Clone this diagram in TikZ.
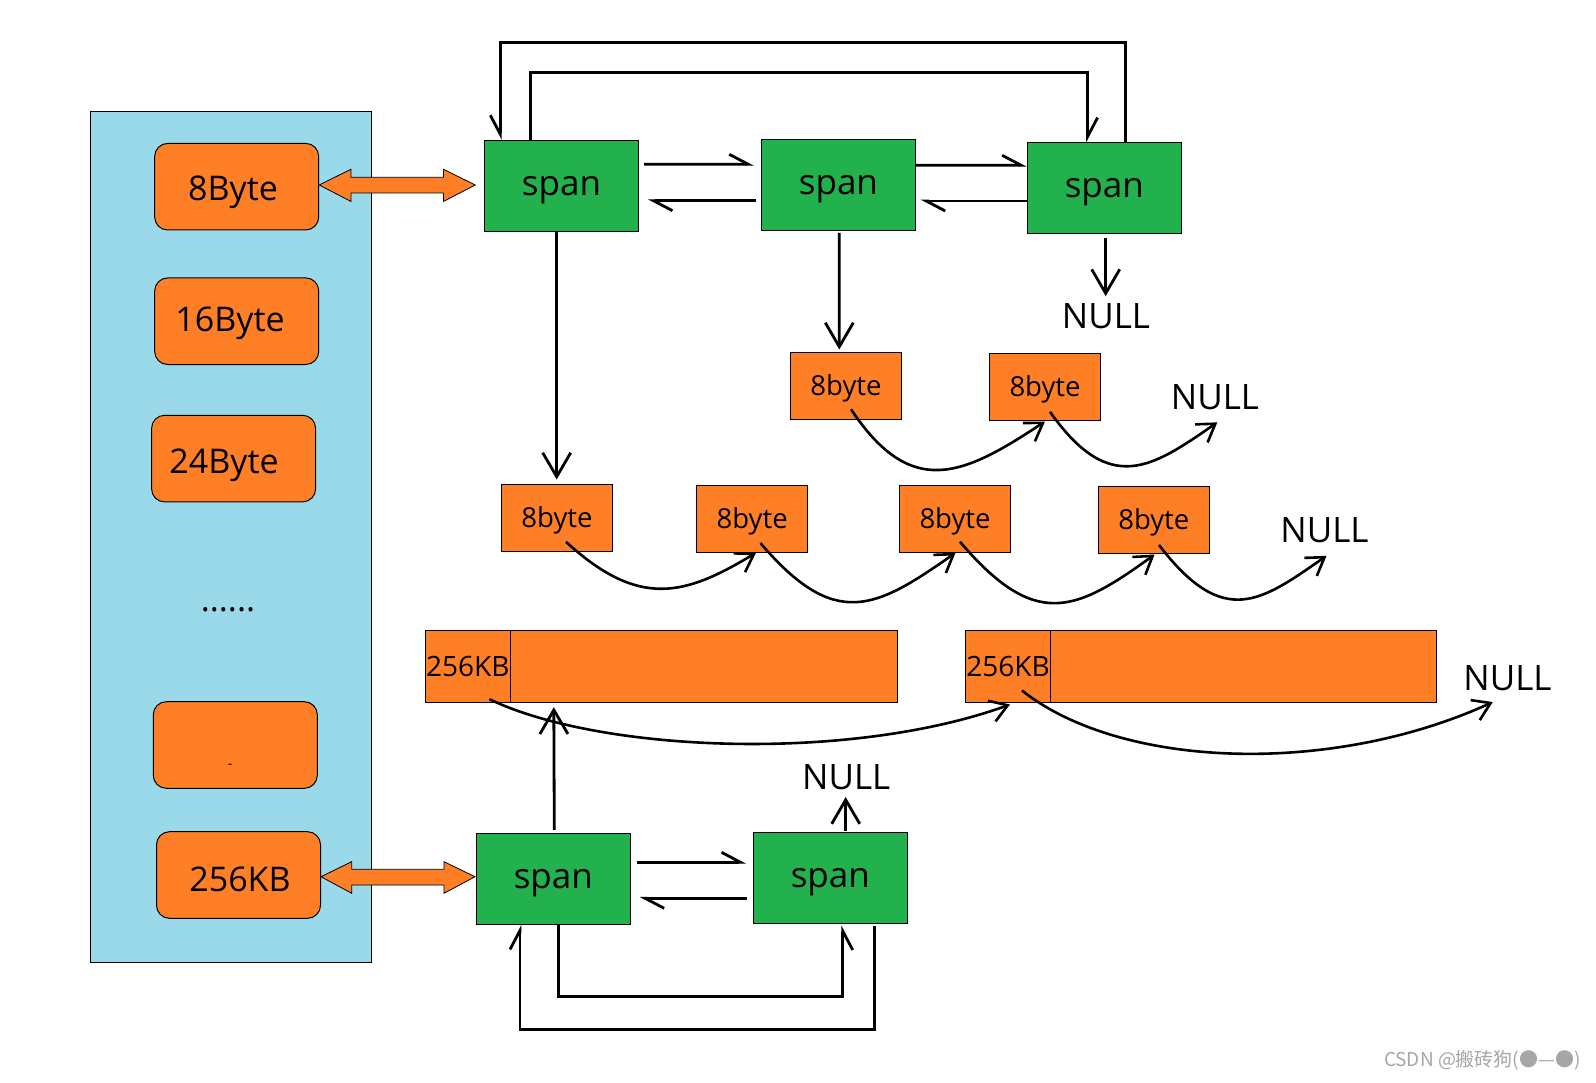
\documentclass[tikz,border=0pt]{standalone}
\usepackage{fontspec}
\setmainfont{Open Sans}
\newfontfamily\cjk{Noto Sans CJK SC}
\usetikzlibrary{arrows.meta,calc}
\definecolor{ora}{HTML}{FF7F27}
\definecolor{grn}{HTML}{22B14C}
\definecolor{pnl}{HTML}{99D9EA}
\begin{document}
\begin{tikzpicture}[x=1pt,y=-1pt,
 panelbox/.style={draw=black,line width=1pt,fill=pnl,inner sep=0},
 sizebox/.style={draw=black,line width=1pt,fill=ora,rounded corners=13pt,inner sep=0,minimum width=164pt,minimum height=86.6pt},
 spanbox/.style={draw=black,line width=1pt,fill=grn,inner sep=0,minimum width=154pt,minimum height=91pt,font=\fontsize{35}{40}\selectfont,text height=20pt,text depth=0.6pt},
 bytebox/.style={draw=black,line width=1pt,fill=ora,inner sep=0,minimum width=111pt,minimum height=67pt,font=\fontsize{27.5}{32}\selectfont,text height=20pt,text depth=0pt},
 barcell/.style={draw=black,line width=1pt,fill=ora,inner sep=0,minimum height=71.6pt,font=\fontsize{28}{32}\selectfont,text height=20pt,text depth=0pt},
 nulltxt/.style={inner sep=0,font=\fontsize{35}{40}\selectfont},
 sizetxt/.style={inner sep=0,anchor=base,font=\fontsize{34}{40}\selectfont},
 link/.style={line width=2.8pt},
 harp/.style={link,-{Straight Barb[harpoon,length=19pt,width=20pt]}},
 harpsw/.style={link,-{Straight Barb[harpoon,swap,length=19pt,width=20pt]}},
 varr/.style={link,-{Straight Barb[length=24pt,width=28pt]}},
 carr/.style={line width=2.6pt,-{Straight Barb[length=17pt,width=22pt]}},
 dbl/.style={draw=black,line width=0.8pt,fill=ora,line join=miter},
]
\useasboundingbox (0,0) rectangle (1596,1083);
\fill[white] (0,0) rectangle (1596,1083);

% left panel
\node[panelbox,minimum width=280.8pt,minimum height=850pt] (panel) at (231,537) {};
\node[sizebox] (k8) at (236.7,186.7) {};
\node[sizebox] (k16) at (236.7,321.2) {};
\node[sizebox] (k24) at (233.6,458.6) {};
\node[sizebox] (kb) at (235.3,745) {};
\node[sizebox] (k256) at (238.5,875) {};
\node[sizetxt] (t8) at (233,201) {8Byte};
\node[sizetxt] (t16) at (230,332) {16Byte};
\node[sizetxt] (t24) at (224,473) {24Byte};
\node[sizetxt] (tdots) at (228,611) {......};
\node[inner sep=0,font=\fontsize{14}{16}\selectfont] (tmk) at (230,766) {-};
\node[sizetxt] (t256) at (240,891.7) {256KB};

% spans
\node[spanbox] (s1) at (561.5,185.9) {span};
\node[spanbox] (s2) at (838.4,184.8) {span};
\node[spanbox,minimum height=90.3pt] (s3) at (1104.3,187.9) {span};
\node[spanbox] (sa) at (553.3,878.8) {span};
\node[spanbox] (sb) at (830.3,877.8) {span};

% 8byte boxes
\node[bytebox] (r1a) at (846,385.8) {8byte};
\node[bytebox] (r1b) at (1045,386.8) {8byte};
\node[bytebox] (r2a) at (557,517.8) {8byte};
\node[bytebox] (r2b) at (752.2,518.8) {8byte};
\node[bytebox] (r2c) at (955,518.8) {8byte};
\node[bytebox] (r2d) at (1153.8,519.8) {8byte};

% 256KB bars
\node[barcell,minimum width=84.3pt] (c1) at (467.85,666.5) {256KB};
\node[barcell,minimum width=387.3pt] (bar1) at (703.65,666.5) {};
\node[barcell,minimum width=85pt] (c2) at (1008,666.5) {256KB};
\node[barcell,minimum width=385.8pt] (bar2) at (1243.4,666.5) {};

% NULL labels
\node[nulltxt] (n1) at (1106,316) {NULL};
\node[nulltxt] (n2) at (1215,397.5) {NULL};
\node[nulltxt] (n3) at (1324.5,530) {NULL};
\node[nulltxt] (n4) at (1507.5,678) {NULL};
\node[nulltxt] (n5) at (846.3,777) {NULL};

% double block arrows
\draw[dbl] ($(k8.east)+(0,-1.7)$) -- ++(31.7,-15.7) -- ++(0,8) -- ++(92.6,0) -- ++(0,-8) -- ++(31.7,15.7) -- ++(-31.7,16.4) -- ++(0,-8.4) -- ++(-92.6,0) -- ++(0,8.4) -- cycle;
\draw[dbl] ($(k256.east)+(0,1.7)$) -- ++(30.7,-15) -- ++(0,7.6) -- ++(92.3,0) -- ++(0,-7.6) -- ++(31,15) -- ++(-31,16.6) -- ++(0,-8.3) -- ++(-92.3,0) -- ++(0,8.3) -- cycle;

% top loops
\draw[harpsw] ($(s3.north)+(21.2,0)$) -- ++(0,-99.4) -| ($(s1.north)+(-61.2,0)$);
\draw[harp] ($(s1.north)+(-31.3,0)$) -- ++(0,-67.1) -| ($(s3.north)+(-16.7,0)$);

% span links top
\draw[harp] ($(s1.east)+(5,-21.6)$) -- ($(s2.west)+(-7,-20.5)$);
\draw[harp] ($(s2.west)+(-5,15.9)$) -- ($(s1.east)+(8.8,14.8)$);
\draw[harp] ($(s2.east)+(0,-19.5)$) -- ($(s3.west)+(0,-22.6)$);
\draw[harp] ($(s3.west)+(0,13.1)$) -- ($(s2.east)+(4.7,16.2)$);

% vertical arrows
\draw[varr] ($(s1.south)+(-4.8,0.2)$) -- ($(r2a.north)+(-0.3,-4.3)$);
\draw[varr] ($(s2.south)+(0.9,2)$) -- ($(r1a.north)+(-6.7,-2.3)$);
\draw[varr] ($(s3.south)+(1.4,4.3)$) -- ($(n1.north)+(-0.3,-7)$);

% curved links row 1
\draw[carr] ($(r1a.center)+(5,23.5)$) .. controls +(60,90) and +(-83,55) .. ($(r1b.south)+(0,0.7)$);
\draw[carr] ($(r1b.center)+(5,25)$) .. controls +(60,85) and +(-65,45) .. ($(n2.south)+(2.3,12)$);

% curved links row 2
\draw[carr] ($(r2a.center)+(9,24)$) .. controls +(74,68) and +(-70,42) .. ($(r2b.south)+(3.8,0)$);
\draw[carr] ($(r2b.center)+(8.2,24.2)$) .. controls +(75,88) and +(-80,56) .. ($(r2c.south)+(0.5,0)$);
\draw[carr] ($(r2c.center)+(5,23)$) .. controls +(75,88) and +(-80,58) .. ($(r2d.south)+(0.8,0.7)$);
\draw[carr] ($(r2d.center)+(5.2,25.2)$) .. controls +(65,85) and +(-65,45) .. ($(n3.south)+(2,13)$);

% curved links of 256KB bars
\draw[carr] ($(c1.south)+(21.6,-3.6)$) .. controls +(110.5,53.3) and +(-160,58) .. ($(c2.south)+(2,1.7)$);
\draw[carr] ($(c2.south)+(14,-12.3)$) .. controls +(98,78) and +(-162.8,74.3) .. ($(n4.south)+(-14.7,11.2)$);

% bottom spans
\draw[varr] ($(sa.north)+(1,-3)$) -- ($(bar1.south west)+(44.3,4.4)$);
\draw[varr] ($(sb.north)+(15.4,-1)$) -- ($(n5.south)+(-0.6,7.2)$);
\draw[harp] ($(sa.east)+(5.7,-16.5)$) -- ($(sb.west)+(-6.6,-15.5)$);
\draw[harp] ($(sb.west)+(-5.6,20.5)$) -- ($(sa.east)+(8.7,19.5)$);
\draw[harpsw] ($(sa.south)+(5,0)$) -- ++(0,71.7) -| ($(sb.south)+(12.4,1.5)$);
\draw[harp] ($(sb.south)+(44,2.4)$) -- ++(0,103.3) -| ($(sa.south)+(-33.3,0)$);

% watermark
\node[font=\cjk\fontsize{19}{22}\selectfont,text=black!35,anchor=base east,inner sep=0] (wm) at (1581,1066.7) {CSDN @搬砖狗(●—●)};
\end{tikzpicture}
\end{document}
